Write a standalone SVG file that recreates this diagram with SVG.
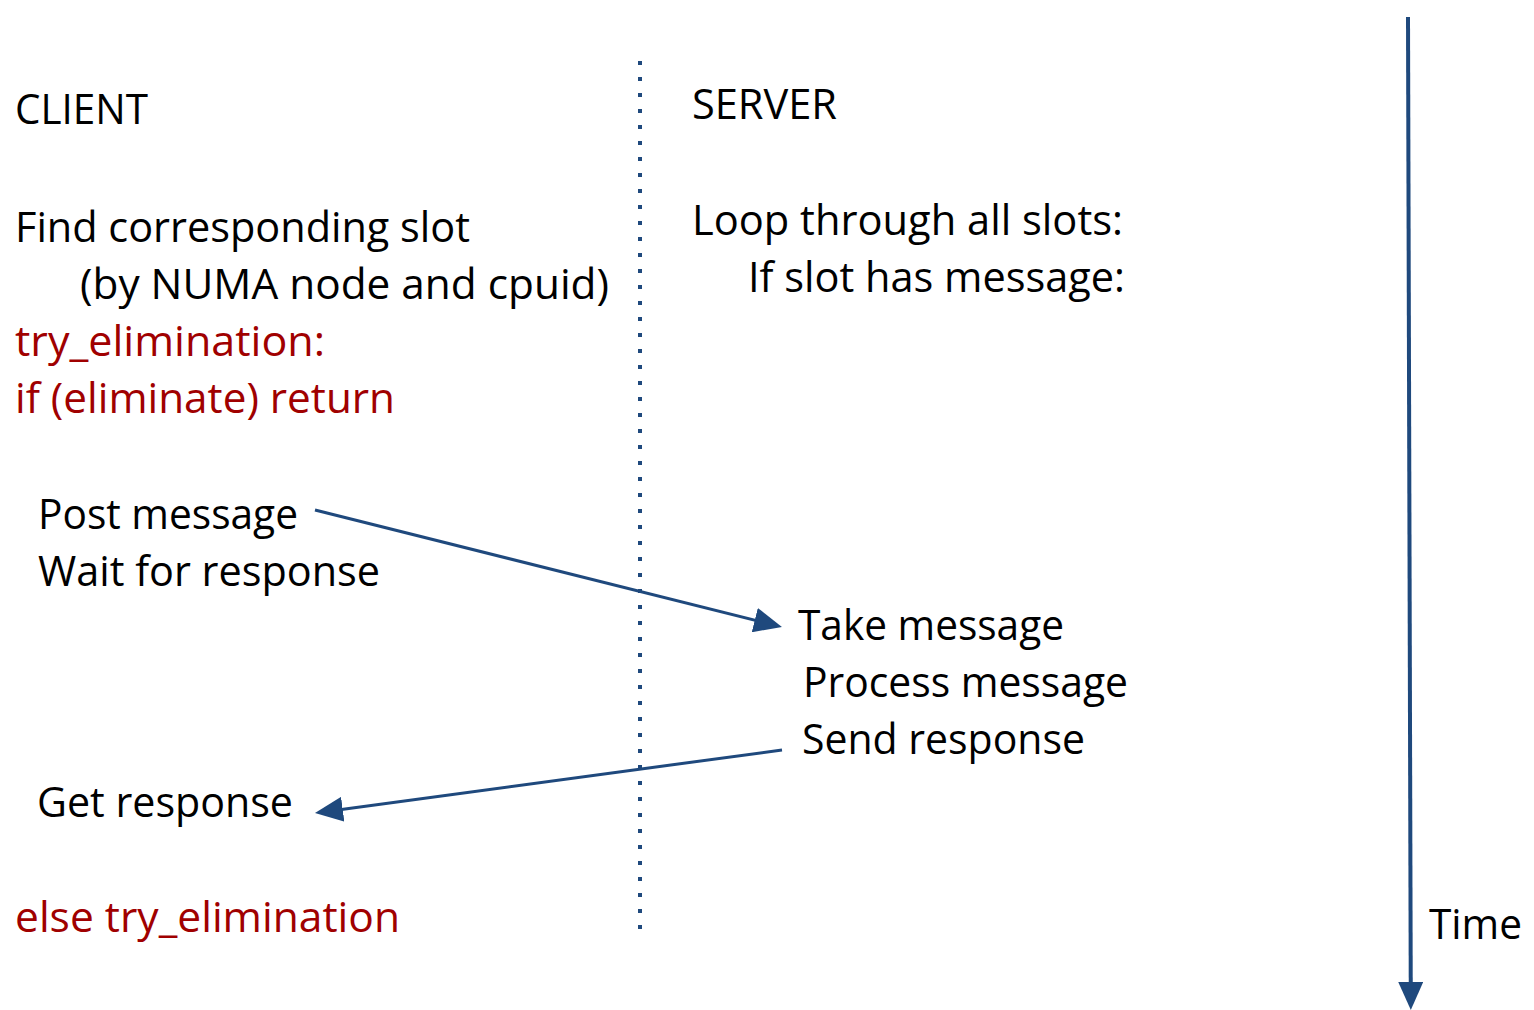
<svg xmlns="http://www.w3.org/2000/svg" width="1534" height="1010" viewBox="0 0 1534 1010">
<defs>
<style>
text{font-family:"Open Sans","Noto Sans","Liberation Sans",sans-serif;font-size:42px;fill:#000}
.red{fill:#a00000}
.conn{stroke:#1f497d;stroke-width:3;fill:none}
</style>
<marker id="ah" viewBox="0 0 28 25" markerUnits="userSpaceOnUse" markerWidth="28" markerHeight="25" refX="20" refY="12.5" orient="auto">
<path d="M0,0 L28,12.5 L0,25 z" fill="#1f497d"/>
</marker>
</defs>
<rect width="1534" height="1010" fill="#fff"/>
<g id="divider">
<line x1="640" y1="61" x2="640" y2="931" stroke="#1f497d" stroke-width="4" stroke-dasharray="4 12"/>
</g>
<g id="client">
<text x="15" y="124" textLength="133" lengthAdjust="spacingAndGlyphs">CLIENT</text>
<text x="15" y="242" textLength="455" lengthAdjust="spacingAndGlyphs">Find corresponding slot</text>
<text x="80" y="299" textLength="529" lengthAdjust="spacingAndGlyphs">(by NUMA node and cpuid)</text>
<text class="red" x="15" y="356" textLength="310" lengthAdjust="spacingAndGlyphs">try_elimination:</text>
<text class="red" x="15" y="413" textLength="380" lengthAdjust="spacingAndGlyphs">if (eliminate) return</text>
</g>
<g id="client-post">
<text x="38" y="529" textLength="260" lengthAdjust="spacingAndGlyphs">Post message</text>
<text x="38" y="586" textLength="342" lengthAdjust="spacingAndGlyphs">Wait for response</text>
</g>
<g id="client-get">
<text x="37" y="817" textLength="256" lengthAdjust="spacingAndGlyphs">Get response</text>
</g>
<g id="client-else">
<text class="red" x="15" y="932" textLength="385" lengthAdjust="spacingAndGlyphs">else try_elimination</text>
</g>
<g id="server">
<text x="692" y="119" textLength="145" lengthAdjust="spacingAndGlyphs">SERVER</text>
<text x="692" y="235" textLength="431" lengthAdjust="spacingAndGlyphs">Loop through all slots:</text>
<text x="748" y="292" textLength="377" lengthAdjust="spacingAndGlyphs">If slot has message:</text>
</g>
<g id="server-process">
<text x="798" y="640" textLength="266" lengthAdjust="spacingAndGlyphs">Take message</text>
<text x="803" y="697" textLength="325" lengthAdjust="spacingAndGlyphs">Process message</text>
<text x="802" y="754" textLength="283" lengthAdjust="spacingAndGlyphs">Send response</text>
</g>
<g id="time">
<text x="1429" y="939" textLength="93" lengthAdjust="spacingAndGlyphs">Time</text>
</g>
<g id="connectors">
<line class="conn" x1="315" y1="510" x2="774.2" y2="625" marker-end="url(#ah)"/>
<line class="conn" x1="782" y1="750" x2="322.9" y2="811.9" marker-end="url(#ah)"/>
<line class="conn" stroke-width="4" style="stroke-width:4" x1="1408" y1="17" x2="1410.8" y2="1002" marker-end="url(#ah)"/>
</g>
</svg>
